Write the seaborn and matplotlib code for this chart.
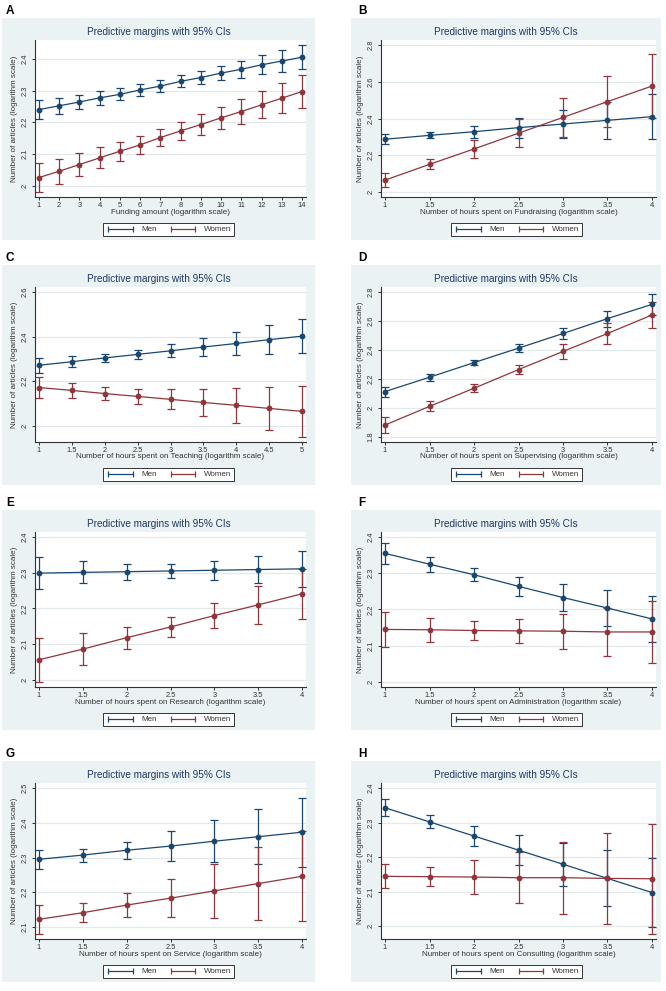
import numpy as np
import pandas as pd
import matplotlib
matplotlib.use("Agg")
import matplotlib.pyplot as plt
import seaborn as sns
from matplotlib.lines import Line2D
from matplotlib.patches import Rectangle
from matplotlib.ticker import FuncFormatter

sns.set_theme(style="white")
plt.rcParams['font.family'] = ['Liberation Sans', 'DejaVu Sans']

# ---------------- data ----------------
a_x = [1, 2, 3, 4, 5, 6, 7, 8, 9, 10, 11, 12, 13, 14]
a_men = [2.240, 2.252, 2.264, 2.277, 2.288, 2.302, 2.314, 2.329, 2.341, 2.355, 2.367, 2.381, 2.393, 2.405]
a_men_ci = [0.030, 0.026, 0.023, 0.021, 0.019, 0.018, 0.018, 0.019, 0.021, 0.023, 0.026, 0.030, 0.034, 0.038]
a_women = [2.026, 2.046, 2.067, 2.088, 2.109, 2.129, 2.152, 2.173, 2.193, 2.214, 2.234, 2.255, 2.276, 2.297]
a_women_ci = [0.045, 0.040, 0.037, 0.033, 0.030, 0.028, 0.028, 0.029, 0.032, 0.034, 0.039, 0.043, 0.047, 0.052]

hours_x = [1, 1.5, 2, 2.5, 3, 3.5, 4]
c_x = [1, 1.5, 2, 2.5, 3, 3.5, 4, 4.5, 5]

b_men = [2.287, 2.308, 2.328, 2.350, 2.370, 2.390, 2.410]
b_men_ci = [0.027, 0.017, 0.032, 0.055, 0.075, 0.100, 0.124]
b_women = [2.064, 2.150, 2.234, 2.320, 2.406, 2.492, 2.577]
b_women_ci = [0.039, 0.028, 0.047, 0.075, 0.105, 0.137, 0.172]

c_men = [2.271, 2.287, 2.304, 2.320, 2.336, 2.353, 2.369, 2.386, 2.402]
c_men_ci = [0.033, 0.025, 0.017, 0.021, 0.029, 0.039, 0.052, 0.065, 0.078]
c_women = [2.171, 2.158, 2.144, 2.131, 2.118, 2.104, 2.091, 2.077, 2.064]
c_women_ci = [0.048, 0.034, 0.028, 0.032, 0.045, 0.062, 0.079, 0.096, 0.115]

d_men = [2.113, 2.212, 2.313, 2.413, 2.514, 2.617, 2.715]
d_men_ci = [0.034, 0.023, 0.016, 0.026, 0.041, 0.055, 0.070]
d_women = [1.882, 2.011, 2.136, 2.265, 2.390, 2.514, 2.642]
d_women_ci = [0.053, 0.034, 0.026, 0.034, 0.051, 0.071, 0.091]

e_men = [2.299, 2.301, 2.303, 2.305, 2.307, 2.309, 2.311]
e_men_ci = [0.044, 0.031, 0.022, 0.019, 0.026, 0.038, 0.051]
e_women = [2.056, 2.086, 2.118, 2.148, 2.180, 2.210, 2.241]
e_women_ci = [0.062, 0.045, 0.031, 0.027, 0.036, 0.053, 0.070]

f_men = [2.355, 2.325, 2.296, 2.264, 2.233, 2.204, 2.174]
f_men_ci = [0.030, 0.021, 0.018, 0.026, 0.038, 0.050, 0.063]
f_women = [2.145, 2.144, 2.142, 2.141, 2.140, 2.138, 2.138]
f_women_ci = [0.048, 0.033, 0.026, 0.034, 0.048, 0.067, 0.086]

g_men = [2.295, 2.307, 2.321, 2.333, 2.347, 2.360, 2.373]
g_men_ci = [0.028, 0.019, 0.024, 0.042, 0.061, 0.079, 0.099]
g_women = [2.122, 2.141, 2.163, 2.183, 2.204, 2.225, 2.246]
g_women_ci = [0.042, 0.028, 0.034, 0.054, 0.078, 0.104, 0.130]

h_men = [2.343, 2.302, 2.261, 2.220, 2.179, 2.138, 2.097]
h_men_ci = [0.025, 0.019, 0.029, 0.044, 0.062, 0.081, 0.100]
h_women = [2.144, 2.143, 2.142, 2.140, 2.140, 2.138, 2.137]
h_women_ci = [0.035, 0.028, 0.048, 0.074, 0.104, 0.131, 0.160]

letters = ["A", "B", "C", "D", "E", "F", "G", "H"]
xlabels = [
    "Funding amount (logarithm scale)",
    "Number of hours spent on Fundraising (logarithm scale)",
    "Number of hours spent on Teaching (logarithm scale)",
    "Number of hours spent on Supervising (logarithm scale)",
    "Number of hours spent on Research (logarithm scale)",
    "Number of hours spent on Administration (logarithm scale)",
    "Number of hours spent on Service (logarithm scale)",
    "Number of hours spent on Consulting (logarithm scale)",
]
yticks_list = [
    [2, 2.1, 2.2, 2.3, 2.4],
    [2, 2.2, 2.4, 2.6, 2.8],
    [2, 2.2, 2.4, 2.6],
    [1.8, 2, 2.2, 2.4, 2.6, 2.8],
    [2, 2.1, 2.2, 2.3, 2.4],
    [2, 2.1, 2.2, 2.3, 2.4],
    [2.1, 2.2, 2.3, 2.4, 2.5],
    [2, 2.1, 2.2, 2.3, 2.4],
]
title_text = "Predictive margins with 95% CIs"
ylabel_text = "Number of articles (logarithm scale)"
series_names = ["Men", "Women"]

panels = [
    (a_x, a_men, a_men_ci, a_women, a_women_ci),
    (hours_x, b_men, b_men_ci, b_women, b_women_ci),
    (c_x, c_men, c_men_ci, c_women, c_women_ci),
    (hours_x, d_men, d_men_ci, d_women, d_women_ci),
    (hours_x, e_men, e_men_ci, e_women, e_women_ci),
    (hours_x, f_men, f_men_ci, f_women, f_women_ci),
    (hours_x, g_men, g_men_ci, g_women, g_women_ci),
    (hours_x, h_men, h_men_ci, h_women, h_women_ci),
]

# ---------------- style ----------------
NAVY = "#1A476F"
MAROON = "#90353B"
BG = "#EAF2F3"
GRID = "#E1E9EB"
TITLE_C = "#1F3763"
TXT = "#333333"
palette = {"Men": NAVY, "Women": MAROON}

W, H = 666, 991
fig = plt.figure(figsize=(W / 100, H / 100), dpi=100)
fig.patch.set_facecolor("white")

plot_tops = [40, 287, 532, 783]
plot_bots = [197, 442, 687, 939]
col_ax = [(35, 306), (381, 656)]
col_bg = [(2, 315), (351, 661)]
letter_x = [6, 358]

fmt = FuncFormatter(lambda v, p: f"{v:g}")

for i, (xs, men, men_ci, women, women_ci) in enumerate(panels):
    r, c = divmod(i, 2)
    top, bot = plot_tops[r], plot_bots[r]
    l, rr = col_ax[c]
    bl, br = col_bg[c]
    w_px, h_px = rr - l, bot - top

    # graph region background
    fig.add_artist(Rectangle((bl / W, 1 - (bot + 43) / H), (br - bl) / W,
                             ((bot + 43) - (top - 22)) / H,
                             transform=fig.transFigure, facecolor=BG,
                             edgecolor="none", zorder=0))

    ax = fig.add_axes([l / W, 1 - bot / H, w_px / W, h_px / H])
    ax.set_facecolor("white")
    ax.set_zorder(2)

    df = pd.DataFrame({
        "x": list(xs) * 2,
        "y": list(men) + list(women),
        "ci": list(men_ci) + list(women_ci),
        "sex": ["Men"] * len(xs) + ["Women"] * len(xs),
    })

    yt = yticks_list[i]
    for yv in yt:
        ax.axhline(yv, color=GRID, lw=0.9, zorder=0)

    for name in series_names:
        sub = df[df["sex"] == name]
        ax.errorbar(sub["x"], sub["y"], yerr=sub["ci"], fmt="none",
                    ecolor=palette[name], elinewidth=0.9, capsize=2.6,
                    capthick=0.9, zorder=2)

    sns.lineplot(data=df, x="x", y="y", hue="sex", palette=palette,
                 hue_order=series_names, marker="o", markersize=4.2,
                 markeredgewidth=0, linewidth=0.9, errorbar=None,
                 legend=False, ax=ax, zorder=3)

    lo = min(yt[0], float((df["y"] - df["ci"]).min()))
    hi = max(yt[-1], float((df["y"] + df["ci"]).max()))
    pad = 0.035 * (hi - lo)
    ax.set_ylim(lo - pad, hi + pad)
    xr = xs[-1] - xs[0]
    ax.set_xlim(xs[0] - 0.015 * xr, xs[-1] + 0.015 * xr)

    ax.set_yticks(yt)
    ax.set_xticks(xs)
    ax.xaxis.set_major_formatter(fmt)
    ax.yaxis.set_major_formatter(fmt)

    for s in ["top", "right"]:
        ax.spines[s].set_visible(False)
    for s in ["left", "bottom"]:
        ax.spines[s].set_color(TXT)
        ax.spines[s].set_linewidth(0.8)

    ax.tick_params(axis="both", which="both", direction="out", length=2.3,
                   width=0.7, color=TXT, labelcolor=TXT, labelsize=5.4,
                   left=True, bottom=True)
    ax.tick_params(axis="x", pad=1.0)
    ax.tick_params(axis="y", pad=2.5, labelrotation=90)
    for lab in ax.get_yticklabels():
        lab.set_va("center")

    ax.set_xlabel(xlabels[i], fontsize=5.8, color=TXT)
    ax.xaxis.set_label_coords(0.5, -15 / h_px)
    ax.xaxis.label.set_va("center")
    ax.set_ylabel(ylabel_text, fontsize=5.8, color=TXT)
    ax.yaxis.set_label_coords(-20 / w_px, 0.5)
    ax.yaxis.label.set_va("center")

    fig.text((bl + br) / 2 / W, 1 - (top - 8) / H, title_text,
             ha="center", va="center", fontsize=7.2, color=TITLE_C)
    fig.text(letter_x[c] / W, 1 - (top - 29) / H, letters[i],
             ha="left", va="center", fontsize=8.5, fontweight="bold",
             color="black")

    handles = [Line2D([], [], color=palette[n], marker="|", markersize=4.5,
                      markeredgewidth=0.9, lw=0.9) for n in series_names]
    leg = ax.legend(handles, series_names, ncol=2, loc="center",
                    bbox_to_anchor=(((l + rr) / 2 - 2) / W, 1 - (bot + 32.5) / H),
                    bbox_transform=fig.transFigure, numpoints=2,
                    fontsize=5.8, handlelength=3.6, handletextpad=0.8,
                    columnspacing=1.4, borderpad=0.35, frameon=True,
                    fancybox=False, edgecolor=TXT, facecolor="white",
                    framealpha=1)
    leg.get_frame().set_linewidth(0.7)
    for t in leg.get_texts():
        t.set_color(TXT)

fig.savefig("out.png", dpi=100, facecolor="white")
